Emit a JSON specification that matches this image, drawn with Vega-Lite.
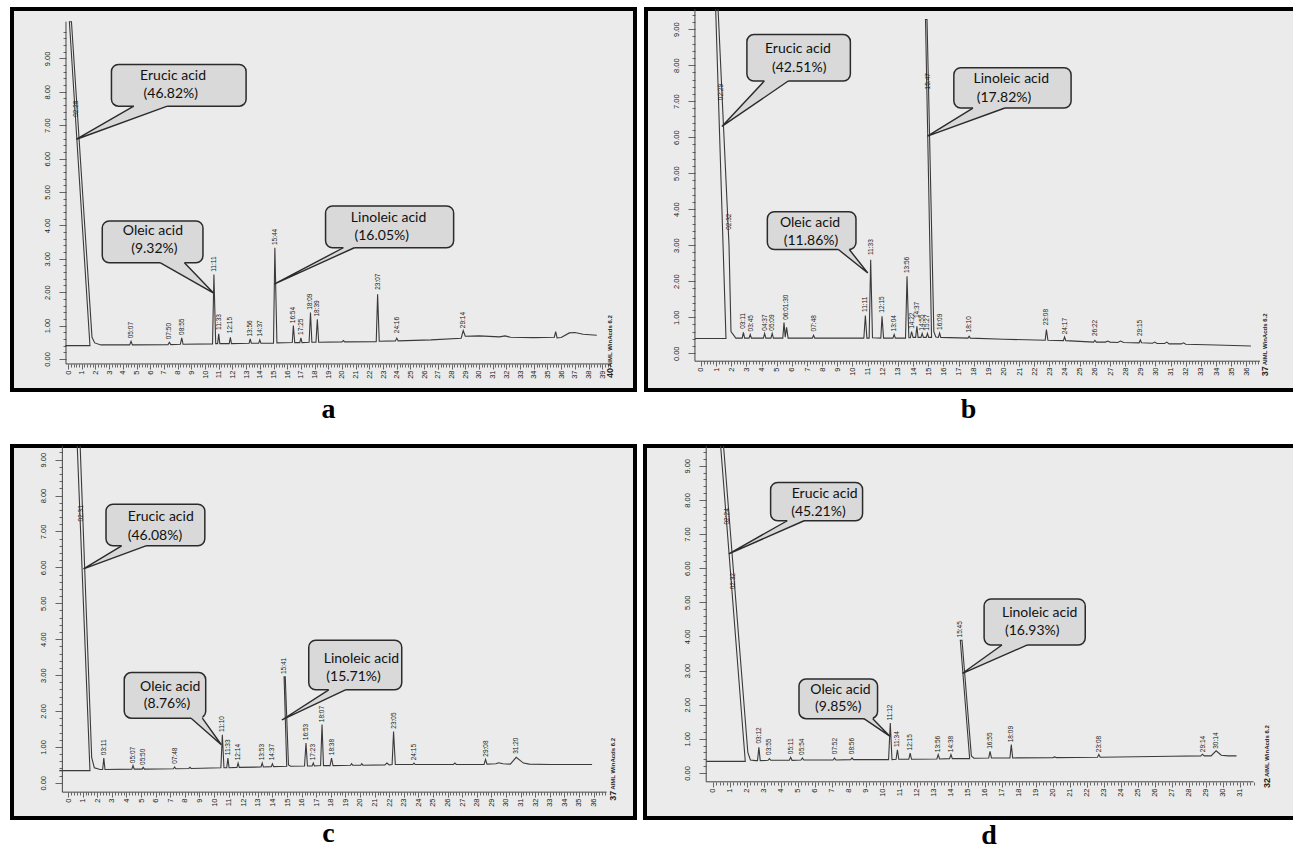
{
"$schema": "https://vega.github.io/schema/vega-lite/v6.json",
"background": "#ffffff",
"padding": {"left": 6, "top": 6, "right": 0, "bottom": 0},
"spacing": 17,
"vconcat": [
{"hconcat": [
{"width": 623, "height": 381,
 "title": {"text": "a", "orient": "bottom", "offset": 6, "dx": 5},
 "layer": [
  {"data": {"name": "tr"}, "transform": [{"filter": "datum.p == 'a'"}],
   "mark": {"type": "line", "stroke": "#3a3a3a", "strokeWidth": 1.1, "clip": true},
   "encoding": {
    "x": {"field": "t", "type": "quantitative", "scale": {"domain": [-4.09, 41.39], "nice": false, "zero": false},
      "axis": {"title": null, "orient": "bottom", "offset": -26, "tickCount": 230, "labelAngle": 270, "labelAlign": "right", "labelBaseline": "middle", "labelPadding": 1, "labelOverlap": false, "labelFlush": false, "labelBound": false,
        "labelExpr": "datum.value > -0.01 && datum.value < 39.01 && abs(datum.value - round(datum.value)) < 0.01 ? format(round(datum.value), 'd') : ''",
        "tickSize": {"condition": {"test": "abs(datum.value - round(datum.value)) < 0.01", "value": 5}, "value": 3},
        "tickOpacity": {"condition": {"test": "datum.value < -0.01 || datum.value > 39.61", "value": 0}, "value": 1}}},
    "y": {"field": "y", "type": "quantitative", "scale": {"domain": [-0.93, 10.48], "nice": false, "zero": false},
      "axis": {"title": null, "orient": "left", "offset": -54, "tickCount": 60, "labelAngle": 270, "labelAlign": "center", "labelBaseline": "bottom", "labelPadding": 8, "labelOverlap": false, "labelFlush": false, "labelBound": false,
        "labelExpr": "datum.value > -0.01 && datum.value < 9.01 && abs(datum.value - round(datum.value)) < 0.01 ? format(datum.value, '.2f') : ''",
        "tickSize": {"condition": {"test": "abs(datum.value - round(datum.value)) < 0.01", "value": 7}, "value": 3},
        "tickOpacity": {"condition": {"test": "datum.value < -0.01 || datum.value > 9.81", "value": 0}, "value": 1}}},
    "order": {"field": "i", "type": "quantitative"}}},
  {"data": {"values": [{}]}, "mark": {"type": "rule", "stroke": "#444", "strokeWidth": 1}, "encoding": {"x": {"datum": -0.15}, "y": {"datum": -0.15}, "y2": {"datum": 10.1}}},
  {"data": {"values": [{}]}, "mark": {"type": "rule", "stroke": "#444", "strokeWidth": 1}, "encoding": {"x": {"datum": -0.15}, "x2": {"datum": 39.6}, "y": {"datum": -0.15}}},
  {"data": {"name": "pk"}, "transform": [{"filter": "datum.p == 'a'"}],
   "mark": {"type": "text", "angle": 270, "align": "left", "baseline": "middle", "dx": 1, "font": "Liberation Sans", "fontSize": 6.5, "fill": "#222"},
   "encoding": {"x": {"field": "t", "type": "quantitative"}, "y": {"field": "y", "type": "quantitative"}, "text": {"field": "lab"}}},
  {"data": {"name": "bx"}, "transform": [{"filter": "datum.p == 'a'"}],
   "mark": {"type": "rect", "cornerRadius": 7, "fill": "#d9d9d9", "stroke": "#2b2b2b", "strokeWidth": 1.5},
   "encoding": {"x": {"field": "t", "type": "quantitative"}, "x2": {"field": "t2"}, "y": {"field": "y", "type": "quantitative"}, "y2": {"field": "y2"}}},
  {"data": {"name": "wg"}, "transform": [{"filter": "datum.p == 'a'"}],
   "mark": {"type": "line", "interpolate": "linear-closed", "fill": "#d9d9d9", "strokeOpacity": 0},
   "encoding": {"x": {"field": "t", "type": "quantitative"}, "y": {"field": "y", "type": "quantitative"}, "detail": {"field": "c"}, "order": {"field": "i", "type": "quantitative"}}},
  {"data": {"name": "wg"}, "transform": [{"filter": "datum.p == 'a' && datum.k == 'e'"}],
   "mark": {"type": "line", "stroke": "#2b2b2b", "strokeWidth": 1.4},
   "encoding": {"x": {"field": "t", "type": "quantitative"}, "y": {"field": "y", "type": "quantitative"}, "detail": {"field": "c"}, "order": {"field": "i", "type": "quantitative"}}},
  {"data": {"name": "nt"}, "transform": [{"filter": "datum.p == 'a'"}],
   "mark": {"type": "text", "font": "Lato", "fontSize": 14, "fill": "#111", "align": "center", "baseline": "middle"},
   "encoding": {"x": {"field": "t", "type": "quantitative"}, "y": {"field": "y", "type": "quantitative"}, "text": {"field": "txt"}}},
  {"data": {"values": [{}]}, "mark": {"type": "text", "text": "40", "angle": 270, "align": "left", "baseline": "middle", "font": "Liberation Sans", "fontSize": 9, "fontWeight": "bold", "fill": "#222"}, "encoding": {"x": {"datum": 39.6}, "y": {"datum": -0.57}}},
  {"data": {"values": [{}]}, "mark": {"type": "text", "text": "AIML WinAcds 6.2", "angle": 270, "align": "left", "baseline": "middle", "dx": 11, "font": "Liberation Sans", "fontSize": 6, "fontWeight": "bold", "fill": "#222"}, "encoding": {"x": {"datum": 39.6}, "y": {"datum": -0.57}}}
 ]},
{"width": 649, "height": 381,
 "title": {"text": "b", "orient": "bottom", "offset": 6, "dx": -2},
 "layer": [
  {"data": {"name": "tr"}, "transform": [{"filter": "datum.p == 'b'"}],
   "mark": {"type": "line", "stroke": "#3a3a3a", "strokeWidth": 1.1, "clip": true},
   "encoding": {
    "x": {"field": "t", "type": "quantitative", "scale": {"domain": [-3.63, 39.21], "nice": false, "zero": false},
      "axis": {"title": null, "orient": "bottom", "offset": -29, "tickCount": 215, "labelAngle": 270, "labelAlign": "right", "labelBaseline": "middle", "labelPadding": 1, "labelOverlap": false, "labelFlush": false, "labelBound": false,
        "labelExpr": "datum.value > -0.01 && datum.value < 36.01 && abs(datum.value - round(datum.value)) < 0.01 ? format(round(datum.value), 'd') : ''",
        "tickSize": {"condition": {"test": "abs(datum.value - round(datum.value)) < 0.01", "value": 5}, "value": 3},
        "tickOpacity": {"condition": {"test": "datum.value < -0.01 || datum.value > 36.91", "value": 0}, "value": 1}}},
    "y": {"field": "y", "type": "quantitative", "scale": {"domain": [-1.02, 9.56], "nice": false, "zero": false},
      "axis": {"title": null, "orient": "left", "offset": -49, "tickCount": 55, "labelAngle": 270, "labelAlign": "center", "labelBaseline": "bottom", "labelPadding": 8, "labelOverlap": false, "labelFlush": false, "labelBound": false,
        "labelExpr": "datum.value > -0.01 && datum.value < 9.01 && abs(datum.value - round(datum.value)) < 0.01 ? format(datum.value, '.2f') : ''",
        "tickSize": {"condition": {"test": "abs(datum.value - round(datum.value)) < 0.01", "value": 7}, "value": 3},
        "tickOpacity": {"condition": {"test": "datum.value < -0.01 || datum.value > 9.41", "value": 0}, "value": 1}}},
    "order": {"field": "i", "type": "quantitative"}}},
  {"data": {"values": [{}]}, "mark": {"type": "rule", "stroke": "#444", "strokeWidth": 1}, "encoding": {"x": {"datum": -0.4}, "y": {"datum": -0.22}, "y2": {"datum": 9.56}}},
  {"data": {"values": [{}]}, "mark": {"type": "rule", "stroke": "#444", "strokeWidth": 1}, "encoding": {"x": {"datum": -0.4}, "x2": {"datum": 36.9}, "y": {"datum": -0.22}}},
  {"data": {"name": "pk"}, "transform": [{"filter": "datum.p == 'b'"}],
   "mark": {"type": "text", "angle": 270, "align": "left", "baseline": "middle", "dx": 1, "font": "Liberation Sans", "fontSize": 6.5, "fill": "#222"},
   "encoding": {"x": {"field": "t", "type": "quantitative"}, "y": {"field": "y", "type": "quantitative"}, "text": {"field": "lab"}}},
  {"data": {"name": "bx"}, "transform": [{"filter": "datum.p == 'b'"}],
   "mark": {"type": "rect", "cornerRadius": 7, "fill": "#d9d9d9", "stroke": "#2b2b2b", "strokeWidth": 1.5},
   "encoding": {"x": {"field": "t", "type": "quantitative"}, "x2": {"field": "t2"}, "y": {"field": "y", "type": "quantitative"}, "y2": {"field": "y2"}}},
  {"data": {"name": "wg"}, "transform": [{"filter": "datum.p == 'b'"}],
   "mark": {"type": "line", "interpolate": "linear-closed", "fill": "#d9d9d9", "strokeOpacity": 0},
   "encoding": {"x": {"field": "t", "type": "quantitative"}, "y": {"field": "y", "type": "quantitative"}, "detail": {"field": "c"}, "order": {"field": "i", "type": "quantitative"}}},
  {"data": {"name": "wg"}, "transform": [{"filter": "datum.p == 'b' && datum.k == 'e'"}],
   "mark": {"type": "line", "stroke": "#2b2b2b", "strokeWidth": 1.4},
   "encoding": {"x": {"field": "t", "type": "quantitative"}, "y": {"field": "y", "type": "quantitative"}, "detail": {"field": "c"}, "order": {"field": "i", "type": "quantitative"}}},
  {"data": {"name": "nt"}, "transform": [{"filter": "datum.p == 'b'"}],
   "mark": {"type": "text", "font": "Lato", "fontSize": 14, "fill": "#111", "align": "center", "baseline": "middle"},
   "encoding": {"x": {"field": "t", "type": "quantitative"}, "y": {"field": "y", "type": "quantitative"}, "text": {"field": "txt"}}},
  {"data": {"values": [{}]}, "mark": {"type": "text", "text": "37", "angle": 270, "align": "left", "baseline": "middle", "font": "Liberation Sans", "fontSize": 9, "fontWeight": "bold", "fill": "#222"}, "encoding": {"x": {"datum": 37.2}, "y": {"datum": -0.64}}},
  {"data": {"values": [{}]}, "mark": {"type": "text", "text": "AIML WinAcds 6.2", "angle": 270, "align": "left", "baseline": "middle", "dx": 11, "font": "Liberation Sans", "fontSize": 6, "fontWeight": "bold", "fill": "#222"}, "encoding": {"x": {"datum": 37.2}, "y": {"datum": -0.64}}}
 ]}
], "spacing": 11, "bounds": "flush"},
{"hconcat": [
{"width": 623, "height": 372,
 "title": {"text": "c", "orient": "bottom", "offset": 2, "dx": 5},
 "layer": [
  {"data": {"name": "tr"}, "transform": [{"filter": "datum.p == 'c'"}],
   "mark": {"type": "line", "stroke": "#3a3a3a", "strokeWidth": 1.1, "clip": true},
   "encoding": {
    "x": {"field": "t", "type": "quantitative", "scale": {"domain": [-3.84, 38.84], "nice": false, "zero": false},
      "axis": {"title": null, "orient": "bottom", "offset": -26, "tickCount": 215, "labelAngle": 270, "labelAlign": "right", "labelBaseline": "middle", "labelPadding": 1, "labelOverlap": false, "labelFlush": false, "labelBound": false,
        "labelExpr": "datum.value > -0.01 && datum.value < 36.01 && abs(datum.value - round(datum.value)) < 0.01 ? format(round(datum.value), 'd') : ''",
        "tickSize": {"condition": {"test": "abs(datum.value - round(datum.value)) < 0.01", "value": 5}, "value": 3},
        "tickOpacity": {"condition": {"test": "datum.value < -0.01 || datum.value > 36.91", "value": 0}, "value": 1}}},
    "y": {"field": "y", "type": "quantitative", "scale": {"domain": [-0.98, 9.38], "nice": false, "zero": false},
      "axis": {"title": null, "orient": "left", "offset": -50, "tickCount": 55, "labelAngle": 270, "labelAlign": "center", "labelBaseline": "bottom", "labelPadding": 8, "labelOverlap": false, "labelFlush": false, "labelBound": false,
        "labelExpr": "datum.value > -0.01 && datum.value < 9.01 && abs(datum.value - round(datum.value)) < 0.01 ? format(datum.value, '.2f') : ''",
        "tickSize": {"condition": {"test": "abs(datum.value - round(datum.value)) < 0.01", "value": 7}, "value": 3},
        "tickOpacity": {"condition": {"test": "datum.value < -0.01 || datum.value > 9.31", "value": 0}, "value": 1}}},
    "order": {"field": "i", "type": "quantitative"}}},
  {"data": {"values": [{}]}, "mark": {"type": "rule", "stroke": "#444", "strokeWidth": 1}, "encoding": {"x": {"datum": -0.39}, "y": {"datum": -0.26}, "y2": {"datum": 9.38}}},
  {"data": {"values": [{}]}, "mark": {"type": "rule", "stroke": "#444", "strokeWidth": 1}, "encoding": {"x": {"datum": -0.39}, "x2": {"datum": 36.9}, "y": {"datum": -0.26}}},
  {"data": {"name": "pk"}, "transform": [{"filter": "datum.p == 'c'"}],
   "mark": {"type": "text", "angle": 270, "align": "left", "baseline": "middle", "dx": 1, "font": "Liberation Sans", "fontSize": 6.5, "fill": "#222"},
   "encoding": {"x": {"field": "t", "type": "quantitative"}, "y": {"field": "y", "type": "quantitative"}, "text": {"field": "lab"}}},
  {"data": {"name": "bx"}, "transform": [{"filter": "datum.p == 'c'"}],
   "mark": {"type": "rect", "cornerRadius": 7, "fill": "#d9d9d9", "stroke": "#2b2b2b", "strokeWidth": 1.5},
   "encoding": {"x": {"field": "t", "type": "quantitative"}, "x2": {"field": "t2"}, "y": {"field": "y", "type": "quantitative"}, "y2": {"field": "y2"}}},
  {"data": {"name": "wg"}, "transform": [{"filter": "datum.p == 'c'"}],
   "mark": {"type": "line", "interpolate": "linear-closed", "fill": "#d9d9d9", "strokeOpacity": 0},
   "encoding": {"x": {"field": "t", "type": "quantitative"}, "y": {"field": "y", "type": "quantitative"}, "detail": {"field": "c"}, "order": {"field": "i", "type": "quantitative"}}},
  {"data": {"name": "wg"}, "transform": [{"filter": "datum.p == 'c' && datum.k == 'e'"}],
   "mark": {"type": "line", "stroke": "#2b2b2b", "strokeWidth": 1.4},
   "encoding": {"x": {"field": "t", "type": "quantitative"}, "y": {"field": "y", "type": "quantitative"}, "detail": {"field": "c"}, "order": {"field": "i", "type": "quantitative"}}},
  {"data": {"name": "nt"}, "transform": [{"filter": "datum.p == 'c'"}],
   "mark": {"type": "text", "font": "Lato", "fontSize": 14, "fill": "#111", "align": "center", "baseline": "middle"},
   "encoding": {"x": {"field": "t", "type": "quantitative"}, "y": {"field": "y", "type": "quantitative"}, "text": {"field": "txt"}}},
  {"data": {"values": [{}]}, "mark": {"type": "text", "text": "37", "angle": 270, "align": "left", "baseline": "middle", "font": "Liberation Sans", "fontSize": 9, "fontWeight": "bold", "fill": "#222"}, "encoding": {"x": {"datum": 37.3}, "y": {"datum": -0.5}}},
  {"data": {"values": [{}]}, "mark": {"type": "text", "text": "AIML WinAcds 6.2", "angle": 270, "align": "left", "baseline": "middle", "dx": 11, "font": "Liberation Sans", "fontSize": 6, "fontWeight": "bold", "fill": "#222"}, "encoding": {"x": {"datum": 37.3}, "y": {"datum": -0.5}}}
 ]},
{"width": 650, "height": 372,
 "title": {"text": "d", "orient": "bottom", "offset": 4, "dx": 19},
 "layer": [
  {"data": {"name": "tr"}, "transform": [{"filter": "datum.p == 'd'"}],
   "mark": {"type": "line", "stroke": "#3a3a3a", "strokeWidth": 1.1, "clip": true},
   "encoding": {
    "x": {"field": "t", "type": "quantitative", "scale": {"domain": [-4.0, 34.24], "nice": false, "zero": false},
      "axis": {"title": null, "orient": "bottom", "offset": -36, "tickCount": 192, "labelAngle": 270, "labelAlign": "right", "labelBaseline": "middle", "labelPadding": 1, "labelOverlap": false, "labelFlush": false, "labelBound": false,
        "labelExpr": "datum.value > -0.01 && datum.value < 31.01 && abs(datum.value - round(datum.value)) < 0.01 ? format(round(datum.value), 'd') : ''",
        "tickSize": {"condition": {"test": "abs(datum.value - round(datum.value)) < 0.01", "value": 5}, "value": 3},
        "tickOpacity": {"condition": {"test": "datum.value < -0.01 || datum.value > 31.81", "value": 0}, "value": 1}}},
    "y": {"field": "y", "type": "quantitative", "scale": {"domain": [-1.32, 9.58], "nice": false, "zero": false},
      "axis": {"title": null, "orient": "left", "offset": -61, "tickCount": 55, "labelAngle": 270, "labelAlign": "center", "labelBaseline": "bottom", "labelPadding": 8, "labelOverlap": false, "labelFlush": false, "labelBound": false,
        "labelExpr": "datum.value > -0.01 && datum.value < 9.01 && abs(datum.value - round(datum.value)) < 0.01 ? format(datum.value, '.2f') : ''",
        "tickSize": {"condition": {"test": "abs(datum.value - round(datum.value)) < 0.01", "value": 7}, "value": 3},
        "tickOpacity": {"condition": {"test": "datum.value < -0.01 || datum.value > 9.51", "value": 0}, "value": 1}}},
    "order": {"field": "i", "type": "quantitative"}}},
  {"data": {"values": [{}]}, "mark": {"type": "rule", "stroke": "#444", "strokeWidth": 1}, "encoding": {"x": {"datum": -0.4}, "y": {"datum": -0.26}, "y2": {"datum": 9.58}}},
  {"data": {"values": [{}]}, "mark": {"type": "rule", "stroke": "#444", "strokeWidth": 1}, "encoding": {"x": {"datum": -0.4}, "x2": {"datum": 31.8}, "y": {"datum": -0.26}}},
  {"data": {"name": "pk"}, "transform": [{"filter": "datum.p == 'd'"}],
   "mark": {"type": "text", "angle": 270, "align": "left", "baseline": "middle", "dx": 1, "font": "Liberation Sans", "fontSize": 6.5, "fill": "#222"},
   "encoding": {"x": {"field": "t", "type": "quantitative"}, "y": {"field": "y", "type": "quantitative"}, "text": {"field": "lab"}}},
  {"data": {"name": "bx"}, "transform": [{"filter": "datum.p == 'd'"}],
   "mark": {"type": "rect", "cornerRadius": 7, "fill": "#d9d9d9", "stroke": "#2b2b2b", "strokeWidth": 1.5},
   "encoding": {"x": {"field": "t", "type": "quantitative"}, "x2": {"field": "t2"}, "y": {"field": "y", "type": "quantitative"}, "y2": {"field": "y2"}}},
  {"data": {"name": "wg"}, "transform": [{"filter": "datum.p == 'd'"}],
   "mark": {"type": "line", "interpolate": "linear-closed", "fill": "#d9d9d9", "strokeOpacity": 0},
   "encoding": {"x": {"field": "t", "type": "quantitative"}, "y": {"field": "y", "type": "quantitative"}, "detail": {"field": "c"}, "order": {"field": "i", "type": "quantitative"}}},
  {"data": {"name": "wg"}, "transform": [{"filter": "datum.p == 'd' && datum.k == 'e'"}],
   "mark": {"type": "line", "stroke": "#2b2b2b", "strokeWidth": 1.4},
   "encoding": {"x": {"field": "t", "type": "quantitative"}, "y": {"field": "y", "type": "quantitative"}, "detail": {"field": "c"}, "order": {"field": "i", "type": "quantitative"}}},
  {"data": {"name": "nt"}, "transform": [{"filter": "datum.p == 'd'"}],
   "mark": {"type": "text", "font": "Lato", "fontSize": 14, "fill": "#111", "align": "center", "baseline": "middle"},
   "encoding": {"x": {"field": "t", "type": "quantitative"}, "y": {"field": "y", "type": "quantitative"}, "text": {"field": "txt"}}},
  {"data": {"values": [{}]}, "mark": {"type": "text", "text": "32", "angle": 270, "align": "left", "baseline": "middle", "font": "Liberation Sans", "fontSize": 9, "fontWeight": "bold", "fill": "#222"}, "encoding": {"x": {"datum": 32.6}, "y": {"datum": -0.44}}},
  {"data": {"values": [{}]}, "mark": {"type": "text", "text": "AIML WinAcds 6.2", "angle": 270, "align": "left", "baseline": "middle", "dx": 11, "font": "Liberation Sans", "fontSize": 6, "fontWeight": "bold", "fill": "#222"}, "encoding": {"x": {"datum": 32.6}, "y": {"datum": -0.44}}}
 ]}
], "spacing": 10, "bounds": "flush"}
],
"datasets": {
"tr": [
{"p":"a","i":1,"t":-0.2,"y":0.40},{"p":"a","i":2,"t":1.6,"y":0.40},{"p":"a","i":3,"t":0.1,"y":10.1},{"p":"a","i":4,"t":0.25,"y":10.1},{"p":"a","i":5,"t":1.75,"y":0.65},{"p":"a","i":6,"t":1.95,"y":0.48},{"p":"a","i":7,"t":2.4,"y":0.42},
{"p":"a","i":8,"t":4.5,"y":0.42},{"p":"a","i":9,"t":4.6,"y":0.53},{"p":"a","i":10,"t":4.7,"y":0.42},
{"p":"a","i":11,"t":7.3,"y":0.43},{"p":"a","i":12,"t":7.4,"y":0.50},{"p":"a","i":13,"t":7.5,"y":0.43},
{"p":"a","i":14,"t":8.2,"y":0.44},{"p":"a","i":15,"t":8.3,"y":0.63},{"p":"a","i":16,"t":8.4,"y":0.44},
{"p":"a","i":17,"t":10.55,"y":0.45},{"p":"a","i":18,"t":10.65,"y":2.53},{"p":"a","i":19,"t":10.78,"y":0.46},
{"p":"a","i":20,"t":10.92,"y":0.46},{"p":"a","i":21,"t":11.0,"y":0.75},{"p":"a","i":22,"t":11.08,"y":0.46},
{"p":"a","i":23,"t":11.77,"y":0.46},{"p":"a","i":24,"t":11.85,"y":0.65},{"p":"a","i":25,"t":11.93,"y":0.46},
{"p":"a","i":26,"t":13.22,"y":0.47},{"p":"a","i":27,"t":13.3,"y":0.60},{"p":"a","i":28,"t":13.38,"y":0.47},
{"p":"a","i":29,"t":13.92,"y":0.47},{"p":"a","i":30,"t":14.0,"y":0.57},{"p":"a","i":31,"t":14.08,"y":0.47},
{"p":"a","i":32,"t":15.0,"y":0.47},{"p":"a","i":33,"t":15.1,"y":3.33},{"p":"a","i":34,"t":15.25,"y":0.48},
{"p":"a","i":35,"t":16.37,"y":0.49},{"p":"a","i":36,"t":16.45,"y":1.0},{"p":"a","i":37,"t":16.55,"y":0.49},
{"p":"a","i":38,"t":16.92,"y":0.49},{"p":"a","i":39,"t":17.0,"y":0.63},{"p":"a","i":40,"t":17.08,"y":0.49},
{"p":"a","i":41,"t":17.6,"y":0.5},{"p":"a","i":42,"t":17.7,"y":1.39},{"p":"a","i":43,"t":17.8,"y":0.5},
{"p":"a","i":44,"t":18.1,"y":0.5},{"p":"a","i":45,"t":18.2,"y":1.19},{"p":"a","i":46,"t":18.3,"y":0.5},
{"p":"a","i":47,"t":20.0,"y":0.51},{"p":"a","i":48,"t":20.1,"y":0.55},{"p":"a","i":49,"t":20.2,"y":0.51},
{"p":"a","i":50,"t":22.5,"y":0.52},{"p":"a","i":51,"t":22.6,"y":1.94},{"p":"a","i":52,"t":22.72,"y":0.53},
{"p":"a","i":53,"t":23.9,"y":0.54},{"p":"a","i":54,"t":24.0,"y":0.62},{"p":"a","i":55,"t":24.1,"y":0.54},
{"p":"a","i":56,"t":26.5,"y":0.57},{"p":"a","i":57,"t":28.7,"y":0.62},{"p":"a","i":58,"t":28.85,"y":0.85},{"p":"a","i":59,"t":29.0,"y":0.68},
{"p":"a","i":60,"t":30.0,"y":0.69},{"p":"a","i":61,"t":31.5,"y":0.66},{"p":"a","i":62,"t":31.9,"y":0.69},{"p":"a","i":63,"t":32.3,"y":0.65},{"p":"a","i":64,"t":34.0,"y":0.64},
{"p":"a","i":65,"t":35.5,"y":0.65},{"p":"a","i":66,"t":35.6,"y":0.82},{"p":"a","i":67,"t":35.7,"y":0.63},{"p":"a","i":68,"t":36.0,"y":0.64},{"p":"a","i":69,"t":36.6,"y":0.78},{"p":"a","i":70,"t":37.0,"y":0.79},{"p":"a","i":71,"t":37.6,"y":0.74},{"p":"a","i":72,"t":38.6,"y":0.71},

{"p":"b","i":1,"t":-0.4,"y":0.41},{"p":"b","i":2,"t":1.65,"y":0.41},{"p":"b","i":3,"t":0.95,"y":9.8},{"p":"b","i":4,"t":1.1,"y":9.8},{"p":"b","i":5,"t":1.85,"y":3.0},{"p":"b","i":6,"t":1.98,"y":0.6},{"p":"b","i":7,"t":2.3,"y":0.42},
{"p":"b","i":8,"t":2.72,"y":0.42},{"p":"b","i":9,"t":2.8,"y":0.58},{"p":"b","i":10,"t":2.88,"y":0.42},
{"p":"b","i":11,"t":3.17,"y":0.42},{"p":"b","i":12,"t":3.25,"y":0.52},{"p":"b","i":13,"t":3.33,"y":0.42},
{"p":"b","i":14,"t":4.12,"y":0.42},{"p":"b","i":15,"t":4.2,"y":0.55},{"p":"b","i":16,"t":4.28,"y":0.42},
{"p":"b","i":17,"t":4.62,"y":0.42},{"p":"b","i":18,"t":4.7,"y":0.55},{"p":"b","i":19,"t":4.78,"y":0.42},
{"p":"b","i":20,"t":5.4,"y":0.42},{"p":"b","i":21,"t":5.48,"y":0.85},{"p":"b","i":22,"t":5.56,"y":0.45},{"p":"b","i":23,"t":5.65,"y":0.72},{"p":"b","i":24,"t":5.75,"y":0.42},
{"p":"b","i":25,"t":7.35,"y":0.42},{"p":"b","i":26,"t":7.43,"y":0.5},{"p":"b","i":27,"t":7.51,"y":0.42},
{"p":"b","i":28,"t":10.75,"y":0.42},{"p":"b","i":29,"t":10.85,"y":1.05},{"p":"b","i":30,"t":10.95,"y":0.42},
{"p":"b","i":31,"t":11.1,"y":0.42},{"p":"b","i":32,"t":11.2,"y":2.6},{"p":"b","i":33,"t":11.32,"y":0.43},
{"p":"b","i":34,"t":11.87,"y":0.42},{"p":"b","i":35,"t":11.95,"y":1.03},{"p":"b","i":36,"t":12.05,"y":0.42},
{"p":"b","i":37,"t":12.67,"y":0.42},{"p":"b","i":38,"t":12.75,"y":0.52},{"p":"b","i":39,"t":12.83,"y":0.42},
{"p":"b","i":40,"t":13.5,"y":0.42},{"p":"b","i":41,"t":13.6,"y":2.14},{"p":"b","i":42,"t":13.72,"y":0.43},
{"p":"b","i":43,"t":13.82,"y":0.43},{"p":"b","i":44,"t":13.9,"y":0.6},{"p":"b","i":45,"t":14.0,"y":0.44},
{"p":"b","i":46,"t":14.17,"y":0.44},{"p":"b","i":47,"t":14.25,"y":0.75},{"p":"b","i":48,"t":14.33,"y":0.44},
{"p":"b","i":49,"t":14.52,"y":0.44},{"p":"b","i":50,"t":14.6,"y":0.55},{"p":"b","i":51,"t":14.68,"y":0.44},
{"p":"b","i":52,"t":14.87,"y":0.44},{"p":"b","i":53,"t":14.95,"y":0.55},{"p":"b","i":54,"t":15.03,"y":0.44},
{"p":"b","i":55,"t":15.22,"y":0.44},{"p":"b","i":56,"t":14.82,"y":9.27},{"p":"b","i":57,"t":14.92,"y":9.27},{"p":"b","i":58,"t":15.37,"y":0.6},{"p":"b","i":59,"t":15.5,"y":0.45},
{"p":"b","i":60,"t":15.67,"y":0.44},{"p":"b","i":61,"t":15.75,"y":0.56},{"p":"b","i":62,"t":15.83,"y":0.44},
{"p":"b","i":63,"t":17.62,"y":0.42},{"p":"b","i":64,"t":17.7,"y":0.47},{"p":"b","i":65,"t":17.78,"y":0.42},
{"p":"b","i":66,"t":20.0,"y":0.39},{"p":"b","i":67,"t":22.72,"y":0.36},{"p":"b","i":68,"t":22.8,"y":0.66},{"p":"b","i":69,"t":22.9,"y":0.36},
{"p":"b","i":70,"t":23.92,"y":0.35},{"p":"b","i":71,"t":24.0,"y":0.45},{"p":"b","i":72,"t":24.08,"y":0.35},
{"p":"b","i":73,"t":25.92,"y":0.31},{"p":"b","i":74,"t":26.0,"y":0.36},{"p":"b","i":75,"t":26.1,"y":0.31},
{"p":"b","i":76,"t":26.7,"y":0.31},{"p":"b","i":77,"t":26.85,"y":0.34},{"p":"b","i":78,"t":27.0,"y":0.31},
{"p":"b","i":79,"t":27.5,"y":0.3},{"p":"b","i":80,"t":27.7,"y":0.34},{"p":"b","i":81,"t":27.9,"y":0.3},
{"p":"b","i":82,"t":28.92,"y":0.29},{"p":"b","i":83,"t":29.0,"y":0.37},{"p":"b","i":84,"t":29.08,"y":0.29},
{"p":"b","i":85,"t":29.8,"y":0.28},{"p":"b","i":86,"t":29.95,"y":0.31},{"p":"b","i":87,"t":30.1,"y":0.27},
{"p":"b","i":88,"t":30.6,"y":0.27},{"p":"b","i":89,"t":30.75,"y":0.31},{"p":"b","i":90,"t":30.9,"y":0.26},
{"p":"b","i":91,"t":31.7,"y":0.26},{"p":"b","i":92,"t":31.85,"y":0.29},{"p":"b","i":93,"t":32.0,"y":0.25},
{"p":"b","i":94,"t":34.0,"y":0.23},{"p":"b","i":95,"t":36.3,"y":0.2},

{"p":"c","i":1,"t":-0.6,"y":0.34},{"p":"c","i":2,"t":1.5,"y":0.34},{"p":"c","i":3,"t":0.6,"y":9.7},{"p":"c","i":4,"t":0.8,"y":9.7},{"p":"c","i":5,"t":1.62,"y":0.7},{"p":"c","i":6,"t":1.8,"y":0.42},{"p":"c","i":7,"t":2.2,"y":0.37},
{"p":"c","i":8,"t":2.37,"y":0.37},{"p":"c","i":9,"t":2.45,"y":0.69},{"p":"c","i":10,"t":2.53,"y":0.37},
{"p":"c","i":11,"t":4.37,"y":0.38},{"p":"c","i":12,"t":4.45,"y":0.48},{"p":"c","i":13,"t":4.53,"y":0.38},
{"p":"c","i":14,"t":5.07,"y":0.38},{"p":"c","i":15,"t":5.15,"y":0.43},{"p":"c","i":16,"t":5.23,"y":0.38},
{"p":"c","i":17,"t":7.22,"y":0.39},{"p":"c","i":18,"t":7.3,"y":0.44},{"p":"c","i":19,"t":7.38,"y":0.39},
{"p":"c","i":20,"t":8.27,"y":0.4},{"p":"c","i":21,"t":8.35,"y":0.43},{"p":"c","i":22,"t":8.43,"y":0.4},
{"p":"c","i":23,"t":10.47,"y":0.42},{"p":"c","i":24,"t":10.57,"y":1.34},{"p":"c","i":25,"t":10.68,"y":0.42},
{"p":"c","i":26,"t":10.87,"y":0.42},{"p":"c","i":27,"t":10.95,"y":0.69},{"p":"c","i":28,"t":11.03,"y":0.42},
{"p":"c","i":29,"t":11.57,"y":0.43},{"p":"c","i":30,"t":11.65,"y":0.55},{"p":"c","i":31,"t":11.73,"y":0.43},
{"p":"c","i":32,"t":13.22,"y":0.44},{"p":"c","i":33,"t":13.3,"y":0.55},{"p":"c","i":34,"t":13.38,"y":0.44},
{"p":"c","i":35,"t":13.92,"y":0.45},{"p":"c","i":36,"t":14.0,"y":0.53},{"p":"c","i":37,"t":14.08,"y":0.45},
{"p":"c","i":38,"t":14.98,"y":0.46},{"p":"c","i":39,"t":14.8,"y":2.95},{"p":"c","i":40,"t":14.88,"y":2.95},{"p":"c","i":41,"t":15.1,"y":0.5},{"p":"c","i":42,"t":15.25,"y":0.46},
{"p":"c","i":43,"t":16.2,"y":0.47},{"p":"c","i":44,"t":16.3,"y":1.11},{"p":"c","i":45,"t":16.4,"y":0.47},
{"p":"c","i":46,"t":16.72,"y":0.47},{"p":"c","i":47,"t":16.8,"y":0.55},{"p":"c","i":48,"t":16.88,"y":0.47},
{"p":"c","i":49,"t":17.3,"y":0.48},{"p":"c","i":50,"t":17.4,"y":1.62},{"p":"c","i":51,"t":17.5,"y":0.48},
{"p":"c","i":52,"t":17.95,"y":0.48},{"p":"c","i":53,"t":18.05,"y":0.69},{"p":"c","i":54,"t":18.15,"y":0.48},
{"p":"c","i":55,"t":19.35,"y":0.49},{"p":"c","i":56,"t":19.42,"y":0.53},{"p":"c","i":57,"t":19.5,"y":0.49},
{"p":"c","i":58,"t":20.05,"y":0.49},{"p":"c","i":59,"t":20.12,"y":0.53},{"p":"c","i":60,"t":20.2,"y":0.49},
{"p":"c","i":61,"t":21.7,"y":0.5},{"p":"c","i":62,"t":21.85,"y":0.55},{"p":"c","i":63,"t":22.0,"y":0.5},
{"p":"c","i":64,"t":22.2,"y":0.51},{"p":"c","i":65,"t":22.3,"y":1.43},{"p":"c","i":66,"t":22.42,"y":0.51},
{"p":"c","i":67,"t":23.62,"y":0.51},{"p":"c","i":68,"t":23.7,"y":0.55},{"p":"c","i":69,"t":23.78,"y":0.51},
{"p":"c","i":70,"t":26.4,"y":0.51},{"p":"c","i":71,"t":26.5,"y":0.55},{"p":"c","i":72,"t":26.6,"y":0.51},
{"p":"c","i":73,"t":28.5,"y":0.51},{"p":"c","i":74,"t":28.6,"y":0.65},{"p":"c","i":75,"t":28.7,"y":0.52},
{"p":"c","i":76,"t":29.3,"y":0.53},{"p":"c","i":77,"t":29.5,"y":0.56},{"p":"c","i":78,"t":29.8,"y":0.53},
{"p":"c","i":79,"t":30.3,"y":0.52},{"p":"c","i":80,"t":30.7,"y":0.71},{"p":"c","i":81,"t":31.2,"y":0.55},{"p":"c","i":82,"t":31.6,"y":0.52},
{"p":"c","i":83,"t":33.0,"y":0.51},{"p":"c","i":84,"t":35.9,"y":0.51},

{"p":"d","i":1,"t":-0.4,"y":0.34},{"p":"d","i":2,"t":1.9,"y":0.34},{"p":"d","i":3,"t":0.4,"y":9.9},{"p":"d","i":4,"t":0.57,"y":9.9},{"p":"d","i":5,"t":2.05,"y":0.6},{"p":"d","i":6,"t":2.2,"y":0.38},{"p":"d","i":7,"t":2.5,"y":0.36},
{"p":"d","i":8,"t":2.62,"y":0.36},{"p":"d","i":9,"t":2.7,"y":0.75},{"p":"d","i":10,"t":2.78,"y":0.36},
{"p":"d","i":11,"t":3.24,"y":0.37},{"p":"d","i":12,"t":3.32,"y":0.42},{"p":"d","i":13,"t":3.4,"y":0.37},
{"p":"d","i":14,"t":4.49,"y":0.37},{"p":"d","i":15,"t":4.57,"y":0.46},{"p":"d","i":16,"t":4.65,"y":0.37},
{"p":"d","i":17,"t":5.18,"y":0.38},{"p":"d","i":18,"t":5.26,"y":0.44},{"p":"d","i":19,"t":5.34,"y":0.38},
{"p":"d","i":20,"t":7.07,"y":0.38},{"p":"d","i":21,"t":7.15,"y":0.44},{"p":"d","i":22,"t":7.23,"y":0.38},
{"p":"d","i":23,"t":8.1,"y":0.39},{"p":"d","i":24,"t":8.18,"y":0.44},{"p":"d","i":25,"t":8.26,"y":0.39},
{"p":"d","i":26,"t":10.33,"y":0.39},{"p":"d","i":27,"t":10.43,"y":1.46},{"p":"d","i":28,"t":10.53,"y":0.39},
{"p":"d","i":29,"t":10.77,"y":0.4},{"p":"d","i":30,"t":10.85,"y":0.68},{"p":"d","i":31,"t":10.93,"y":0.4},
{"p":"d","i":32,"t":11.52,"y":0.4},{"p":"d","i":33,"t":11.6,"y":0.58},{"p":"d","i":34,"t":11.68,"y":0.4},
{"p":"d","i":35,"t":13.17,"y":0.41},{"p":"d","i":36,"t":13.25,"y":0.54},{"p":"d","i":37,"t":13.33,"y":0.41},
{"p":"d","i":38,"t":13.92,"y":0.42},{"p":"d","i":39,"t":14.0,"y":0.54},{"p":"d","i":40,"t":14.08,"y":0.42},
{"p":"d","i":41,"t":15.1,"y":0.42},{"p":"d","i":42,"t":14.55,"y":3.89},{"p":"d","i":43,"t":14.65,"y":3.89},{"p":"d","i":44,"t":15.2,"y":0.5},{"p":"d","i":45,"t":15.35,"y":0.43},
{"p":"d","i":46,"t":16.22,"y":0.44},{"p":"d","i":47,"t":16.3,"y":0.63},{"p":"d","i":48,"t":16.38,"y":0.44},
{"p":"d","i":49,"t":17.47,"y":0.44},{"p":"d","i":50,"t":17.55,"y":0.83},{"p":"d","i":51,"t":17.63,"y":0.44},
{"p":"d","i":52,"t":20.0,"y":0.45},{"p":"d","i":53,"t":20.1,"y":0.47},{"p":"d","i":54,"t":20.2,"y":0.45},
{"p":"d","i":55,"t":22.62,"y":0.46},{"p":"d","i":56,"t":22.7,"y":0.54},{"p":"d","i":57,"t":22.78,"y":0.46},
{"p":"d","i":58,"t":27.0,"y":0.49},{"p":"d","i":59,"t":28.7,"y":0.5},{"p":"d","i":60,"t":28.8,"y":0.55},{"p":"d","i":61,"t":28.9,"y":0.5},
{"p":"d","i":62,"t":29.3,"y":0.5},{"p":"d","i":63,"t":29.6,"y":0.65},{"p":"d","i":64,"t":29.9,"y":0.52},{"p":"d","i":65,"t":30.3,"y":0.5},{"p":"d","i":66,"t":30.8,"y":0.5}
],
"pk": [
{"p":"a","t":0.6,"y":7.22,"lab":"02:28"},{"p":"a","t":4.6,"y":0.59,"lab":"05:07"},{"p":"a","t":7.4,"y":0.56,"lab":"07:50"},{"p":"a","t":8.3,"y":0.69,"lab":"08:55"},{"p":"a","t":10.65,"y":2.58,"lab":"11:11"},{"p":"a","t":11.0,"y":0.84,"lab":"11:33"},{"p":"a","t":11.85,"y":0.74,"lab":"12:15"},{"p":"a","t":13.3,"y":0.64,"lab":"13:56"},{"p":"a","t":14.0,"y":0.64,"lab":"14:37"},{"p":"a","t":15.1,"y":3.38,"lab":"15:44"},{"p":"a","t":16.45,"y":1.04,"lab":"16:54"},{"p":"a","t":17.0,"y":0.69,"lab":"17:25"},{"p":"a","t":17.7,"y":1.44,"lab":"18:09"},{"p":"a","t":18.2,"y":1.24,"lab":"18:39"},{"p":"a","t":22.6,"y":2.04,"lab":"23:07"},{"p":"a","t":24.0,"y":0.74,"lab":"24:16"},{"p":"a","t":28.85,"y":0.89,"lab":"29:14"},
{"p":"b","t":1.3,"y":7.0,"lab":"02:29"},{"p":"b","t":1.85,"y":3.4,"lab":"02:32"},{"p":"b","t":2.8,"y":0.65,"lab":"03:11"},{"p":"b","t":3.3,"y":0.58,"lab":"03:45"},{"p":"b","t":4.2,"y":0.6,"lab":"04:37"},{"p":"b","t":4.72,"y":0.6,"lab":"05:09"},{"p":"b","t":5.58,"y":0.9,"lab":"06:01:30"},{"p":"b","t":7.45,"y":0.58,"lab":"07:48"},{"p":"b","t":10.85,"y":1.12,"lab":"11:11"},{"p":"b","t":11.2,"y":2.7,"lab":"11:33"},{"p":"b","t":11.95,"y":1.1,"lab":"12:15"},{"p":"b","t":12.75,"y":0.58,"lab":"13:04"},{"p":"b","t":13.6,"y":2.2,"lab":"13:56"},{"p":"b","t":13.9,"y":0.65,"lab":"14:22"},{"p":"b","t":14.25,"y":0.95,"lab":"14:37"},{"p":"b","t":14.6,"y":0.6,"lab":"14:55"},{"p":"b","t":14.95,"y":0.6,"lab":"15:27"},{"p":"b","t":14.97,"y":7.3,"lab":"15:47"},{"p":"b","t":15.75,"y":0.62,"lab":"16:09"},{"p":"b","t":17.7,"y":0.55,"lab":"18:10"},{"p":"b","t":22.8,"y":0.75,"lab":"23:08"},{"p":"b","t":24.0,"y":0.5,"lab":"24:17"},{"p":"b","t":26.0,"y":0.45,"lab":"26:22"},{"p":"b","t":29.0,"y":0.45,"lab":"29:15"},
{"p":"c","t":0.9,"y":7.25,"lab":"02:31"},{"p":"c","t":2.45,"y":0.74,"lab":"03:11"},{"p":"c","t":4.45,"y":0.52,"lab":"05:07"},{"p":"c","t":5.15,"y":0.47,"lab":"05:50"},{"p":"c","t":7.3,"y":0.5,"lab":"07:48"},{"p":"c","t":10.57,"y":1.39,"lab":"11:10"},{"p":"c","t":10.95,"y":0.74,"lab":"11:33"},{"p":"c","t":11.65,"y":0.6,"lab":"12:14"},{"p":"c","t":13.3,"y":0.6,"lab":"13:53"},{"p":"c","t":14.0,"y":0.6,"lab":"14:37"},{"p":"c","t":14.8,"y":3.0,"lab":"15:41"},{"p":"c","t":16.3,"y":1.16,"lab":"16:53"},{"p":"c","t":16.8,"y":0.6,"lab":"17:23"},{"p":"c","t":17.4,"y":1.66,"lab":"18:07"},{"p":"c","t":18.05,"y":0.74,"lab":"18:38"},{"p":"c","t":22.3,"y":1.48,"lab":"23:05"},{"p":"c","t":23.7,"y":0.6,"lab":"24:15"},{"p":"c","t":28.6,"y":0.7,"lab":"29:08"},{"p":"c","t":30.7,"y":0.78,"lab":"31:20"},
{"p":"d","t":0.8,"y":7.25,"lab":"02:24"},{"p":"d","t":1.15,"y":5.35,"lab":"02:32"},{"p":"d","t":2.7,"y":0.83,"lab":"03:12"},{"p":"d","t":3.32,"y":0.5,"lab":"03:55"},{"p":"d","t":4.57,"y":0.52,"lab":"05:11"},{"p":"d","t":5.26,"y":0.5,"lab":"05:54"},{"p":"d","t":7.15,"y":0.52,"lab":"07:52"},{"p":"d","t":8.18,"y":0.52,"lab":"08:56"},{"p":"d","t":10.43,"y":1.51,"lab":"11:12"},{"p":"d","t":10.85,"y":0.73,"lab":"11:34"},{"p":"d","t":11.6,"y":0.63,"lab":"12:15"},{"p":"d","t":13.25,"y":0.58,"lab":"13:56"},{"p":"d","t":14.0,"y":0.58,"lab":"14:38"},{"p":"d","t":14.55,"y":3.94,"lab":"15:45"},{"p":"d","t":16.3,"y":0.68,"lab":"16:55"},{"p":"d","t":17.55,"y":0.87,"lab":"18:09"},{"p":"d","t":22.7,"y":0.58,"lab":"23:08"},{"p":"d","t":28.8,"y":0.58,"lab":"29:14"},{"p":"d","t":29.6,"y":0.68,"lab":"30:14"}
],
"bx": [
{"p":"a","c":"E","t":3.17,"t2":13.0,"y":7.57,"y2":8.82},{"p":"a","c":"O","t":2.5,"t2":9.85,"y":2.88,"y2":4.13},{"p":"a","c":"L","t":18.8,"t2":28.15,"y":3.33,"y2":4.58},
{"p":"b","c":"E","t":3.03,"t2":9.86,"y":7.56,"y2":8.85},{"p":"b","c":"O","t":4.38,"t2":10.23,"y":2.88,"y2":3.93},{"p":"b","c":"L","t":16.69,"t2":24.43,"y":6.81,"y2":7.93},
{"p":"c","c":"E","t":2.6,"t2":9.37,"y":6.6,"y2":7.76},{"p":"c","c":"O","t":3.85,"t2":9.43,"y":1.8,"y2":3.07},{"p":"c","c":"L","t":16.49,"t2":22.86,"y":2.59,"y2":3.97},
{"p":"d","c":"E","t":3.39,"t2":8.8,"y":7.39,"y2":8.51},{"p":"d","c":"O","t":5.06,"t2":9.68,"y":1.59,"y2":2.75},{"p":"d","c":"L","t":15.95,"t2":21.9,"y":3.75,"y2":5.1}
],
"wg": [
{"p":"a","c":"E","i":1,"t":4.8,"y":7.72,"k":"in"},{"p":"a","c":"E","i":2,"t":4.8,"y":7.57,"k":"e"},{"p":"a","c":"E","i":3,"t":0.62,"y":6.58,"k":"e"},{"p":"a","c":"E","i":4,"t":7.25,"y":7.57,"k":"e"},{"p":"a","c":"E","i":5,"t":7.25,"y":7.72,"k":"in"},
{"p":"a","c":"O","i":1,"t":6.75,"y":3.03,"k":"in"},{"p":"a","c":"O","i":2,"t":6.75,"y":2.88,"k":"e"},{"p":"a","c":"O","i":3,"t":10.6,"y":1.98,"k":"e"},{"p":"a","c":"O","i":4,"t":8.5,"y":2.88,"k":"e"},{"p":"a","c":"O","i":5,"t":8.5,"y":3.03,"k":"in"},
{"p":"a","c":"L","i":1,"t":20.1,"y":3.48,"k":"in"},{"p":"a","c":"L","i":2,"t":20.1,"y":3.33,"k":"e"},{"p":"a","c":"L","i":3,"t":15.05,"y":2.24,"k":"e"},{"p":"a","c":"L","i":4,"t":20.9,"y":3.33,"k":"e"},{"p":"a","c":"L","i":5,"t":20.9,"y":3.48,"k":"in"},
{"p":"b","c":"E","i":1,"t":4.18,"y":7.71,"k":"in"},{"p":"b","c":"E","i":2,"t":4.18,"y":7.56,"k":"e"},{"p":"b","c":"E","i":3,"t":1.38,"y":6.3,"k":"e"},{"p":"b","c":"E","i":4,"t":5.76,"y":7.56,"k":"e"},{"p":"b","c":"E","i":5,"t":5.76,"y":7.71,"k":"in"},
{"p":"b","c":"O","i":1,"t":9.07,"y":3.03,"k":"in"},{"p":"b","c":"O","i":2,"t":9.07,"y":2.88,"k":"e"},{"p":"b","c":"O","i":3,"t":11.01,"y":2.23,"k":"e"},{"p":"b","c":"O","i":4,"t":9.79,"y":2.88,"k":"e"},{"p":"b","c":"O","i":5,"t":9.79,"y":3.03,"k":"in"},
{"p":"b","c":"L","i":1,"t":17.95,"y":6.96,"k":"in"},{"p":"b","c":"L","i":2,"t":17.95,"y":6.81,"k":"e"},{"p":"b","c":"L","i":3,"t":14.95,"y":6.03,"k":"e"},{"p":"b","c":"L","i":4,"t":20.06,"y":6.81,"k":"e"},{"p":"b","c":"L","i":5,"t":20.06,"y":6.96,"k":"in"},
{"p":"c","c":"E","i":1,"t":3.67,"y":6.75,"k":"in"},{"p":"c","c":"E","i":2,"t":3.67,"y":6.6,"k":"e"},{"p":"c","c":"E","i":3,"t":1.06,"y":5.96,"k":"e"},{"p":"c","c":"E","i":4,"t":5.33,"y":6.6,"k":"e"},{"p":"c","c":"E","i":5,"t":5.33,"y":6.75,"k":"in"},
{"p":"c","c":"O","i":1,"t":8.43,"y":1.95,"k":"in"},{"p":"c","c":"O","i":2,"t":8.43,"y":1.8,"k":"e"},{"p":"c","c":"O","i":3,"t":10.5,"y":1.06,"k":"e"},{"p":"c","c":"O","i":4,"t":9.2,"y":1.8,"k":"e"},{"p":"c","c":"O","i":5,"t":9.2,"y":1.95,"k":"in"},
{"p":"c","c":"L","i":1,"t":17.86,"y":2.74,"k":"in"},{"p":"c","c":"L","i":2,"t":17.86,"y":2.59,"k":"e"},{"p":"c","c":"L","i":3,"t":14.65,"y":1.75,"k":"e"},{"p":"c","c":"L","i":4,"t":19.0,"y":2.59,"k":"e"},{"p":"c","c":"L","i":5,"t":19.0,"y":2.74,"k":"in"},
{"p":"d","c":"E","i":1,"t":4.37,"y":7.54,"k":"in"},{"p":"d","c":"E","i":2,"t":4.37,"y":7.39,"k":"e"},{"p":"d","c":"E","i":3,"t":0.93,"y":6.42,"k":"e"},{"p":"d","c":"E","i":4,"t":5.36,"y":7.39,"k":"e"},{"p":"d","c":"E","i":5,"t":5.36,"y":7.54,"k":"in"},
{"p":"d","c":"O","i":1,"t":8.88,"y":1.74,"k":"in"},{"p":"d","c":"O","i":2,"t":8.88,"y":1.59,"k":"e"},{"p":"d","c":"O","i":3,"t":10.42,"y":1.07,"k":"e"},{"p":"d","c":"O","i":4,"t":9.4,"y":1.59,"k":"e"},{"p":"d","c":"O","i":5,"t":9.4,"y":1.74,"k":"in"},
{"p":"d","c":"L","i":1,"t":17.0,"y":3.9,"k":"in"},{"p":"d","c":"L","i":2,"t":17.0,"y":3.75,"k":"e"},{"p":"d","c":"L","i":3,"t":14.68,"y":2.92,"k":"e"},{"p":"d","c":"L","i":4,"t":18.5,"y":3.75,"k":"e"},{"p":"d","c":"L","i":5,"t":18.5,"y":3.9,"k":"in"}
],
"nt": [
{"p":"a","t":7.67,"y":8.47,"txt":"Erucic acid"},{"p":"a","t":7.5,"y":7.92,"txt":"(46.82%)"},{"p":"a","t":6.2,"y":3.83,"txt":"Oleic acid"},{"p":"a","t":6.3,"y":3.28,"txt":"(9.32%)"},{"p":"a","t":23.4,"y":4.23,"txt":"Linoleic acid"},{"p":"a","t":22.9,"y":3.68,"txt":"(16.05%)"},
{"p":"b","t":6.4,"y":8.44,"txt":"Erucic acid"},{"p":"b","t":6.48,"y":7.93,"txt":"(42.51%)"},{"p":"b","t":20.48,"y":7.63,"txt":"Linoleic acid"},{"p":"b","t":20.0,"y":7.09,"txt":"(17.82%)"},{"p":"b","t":7.2,"y":3.62,"txt":"Oleic acid"},{"p":"b","t":7.26,"y":3.13,"txt":"(11.86%)"},
{"p":"c","t":6.35,"y":7.39,"txt":"Erucic acid"},{"p":"c","t":5.95,"y":6.88,"txt":"(46.08%)"},{"p":"c","t":7.0,"y":2.68,"txt":"Oleic acid"},{"p":"c","t":6.78,"y":2.19,"txt":"(8.76%)"},{"p":"c","t":20.1,"y":3.44,"txt":"Linoleic acid"},{"p":"c","t":19.56,"y":2.95,"txt":"(15.71%)"},
{"p":"d","t":6.57,"y":8.17,"txt":"Erucic acid"},{"p":"d","t":6.2,"y":7.64,"txt":"(45.21%)"},{"p":"d","t":19.22,"y":4.7,"txt":"Linoleic acid"},{"p":"d","t":18.78,"y":4.15,"txt":"(16.93%)"},{"p":"d","t":7.5,"y":2.43,"txt":"Oleic acid"},{"p":"d","t":7.37,"y":1.92,"txt":"(9.85%)"}
]
},
"config": {
 "view": {"stroke": "#000000", "strokeWidth": 4, "fill": "#ebebeb"},
 "axis": {"labelFont": "Liberation Sans", "labelFontSize": 7.5, "labelColor": "#222222", "tickColor": "#444444", "tickWidth": 0.8, "domain": false, "grid": false},
 "title": {"font": "Liberation Serif", "fontSize": 28, "fontWeight": "bold", "color": "#000000"}
}
}
